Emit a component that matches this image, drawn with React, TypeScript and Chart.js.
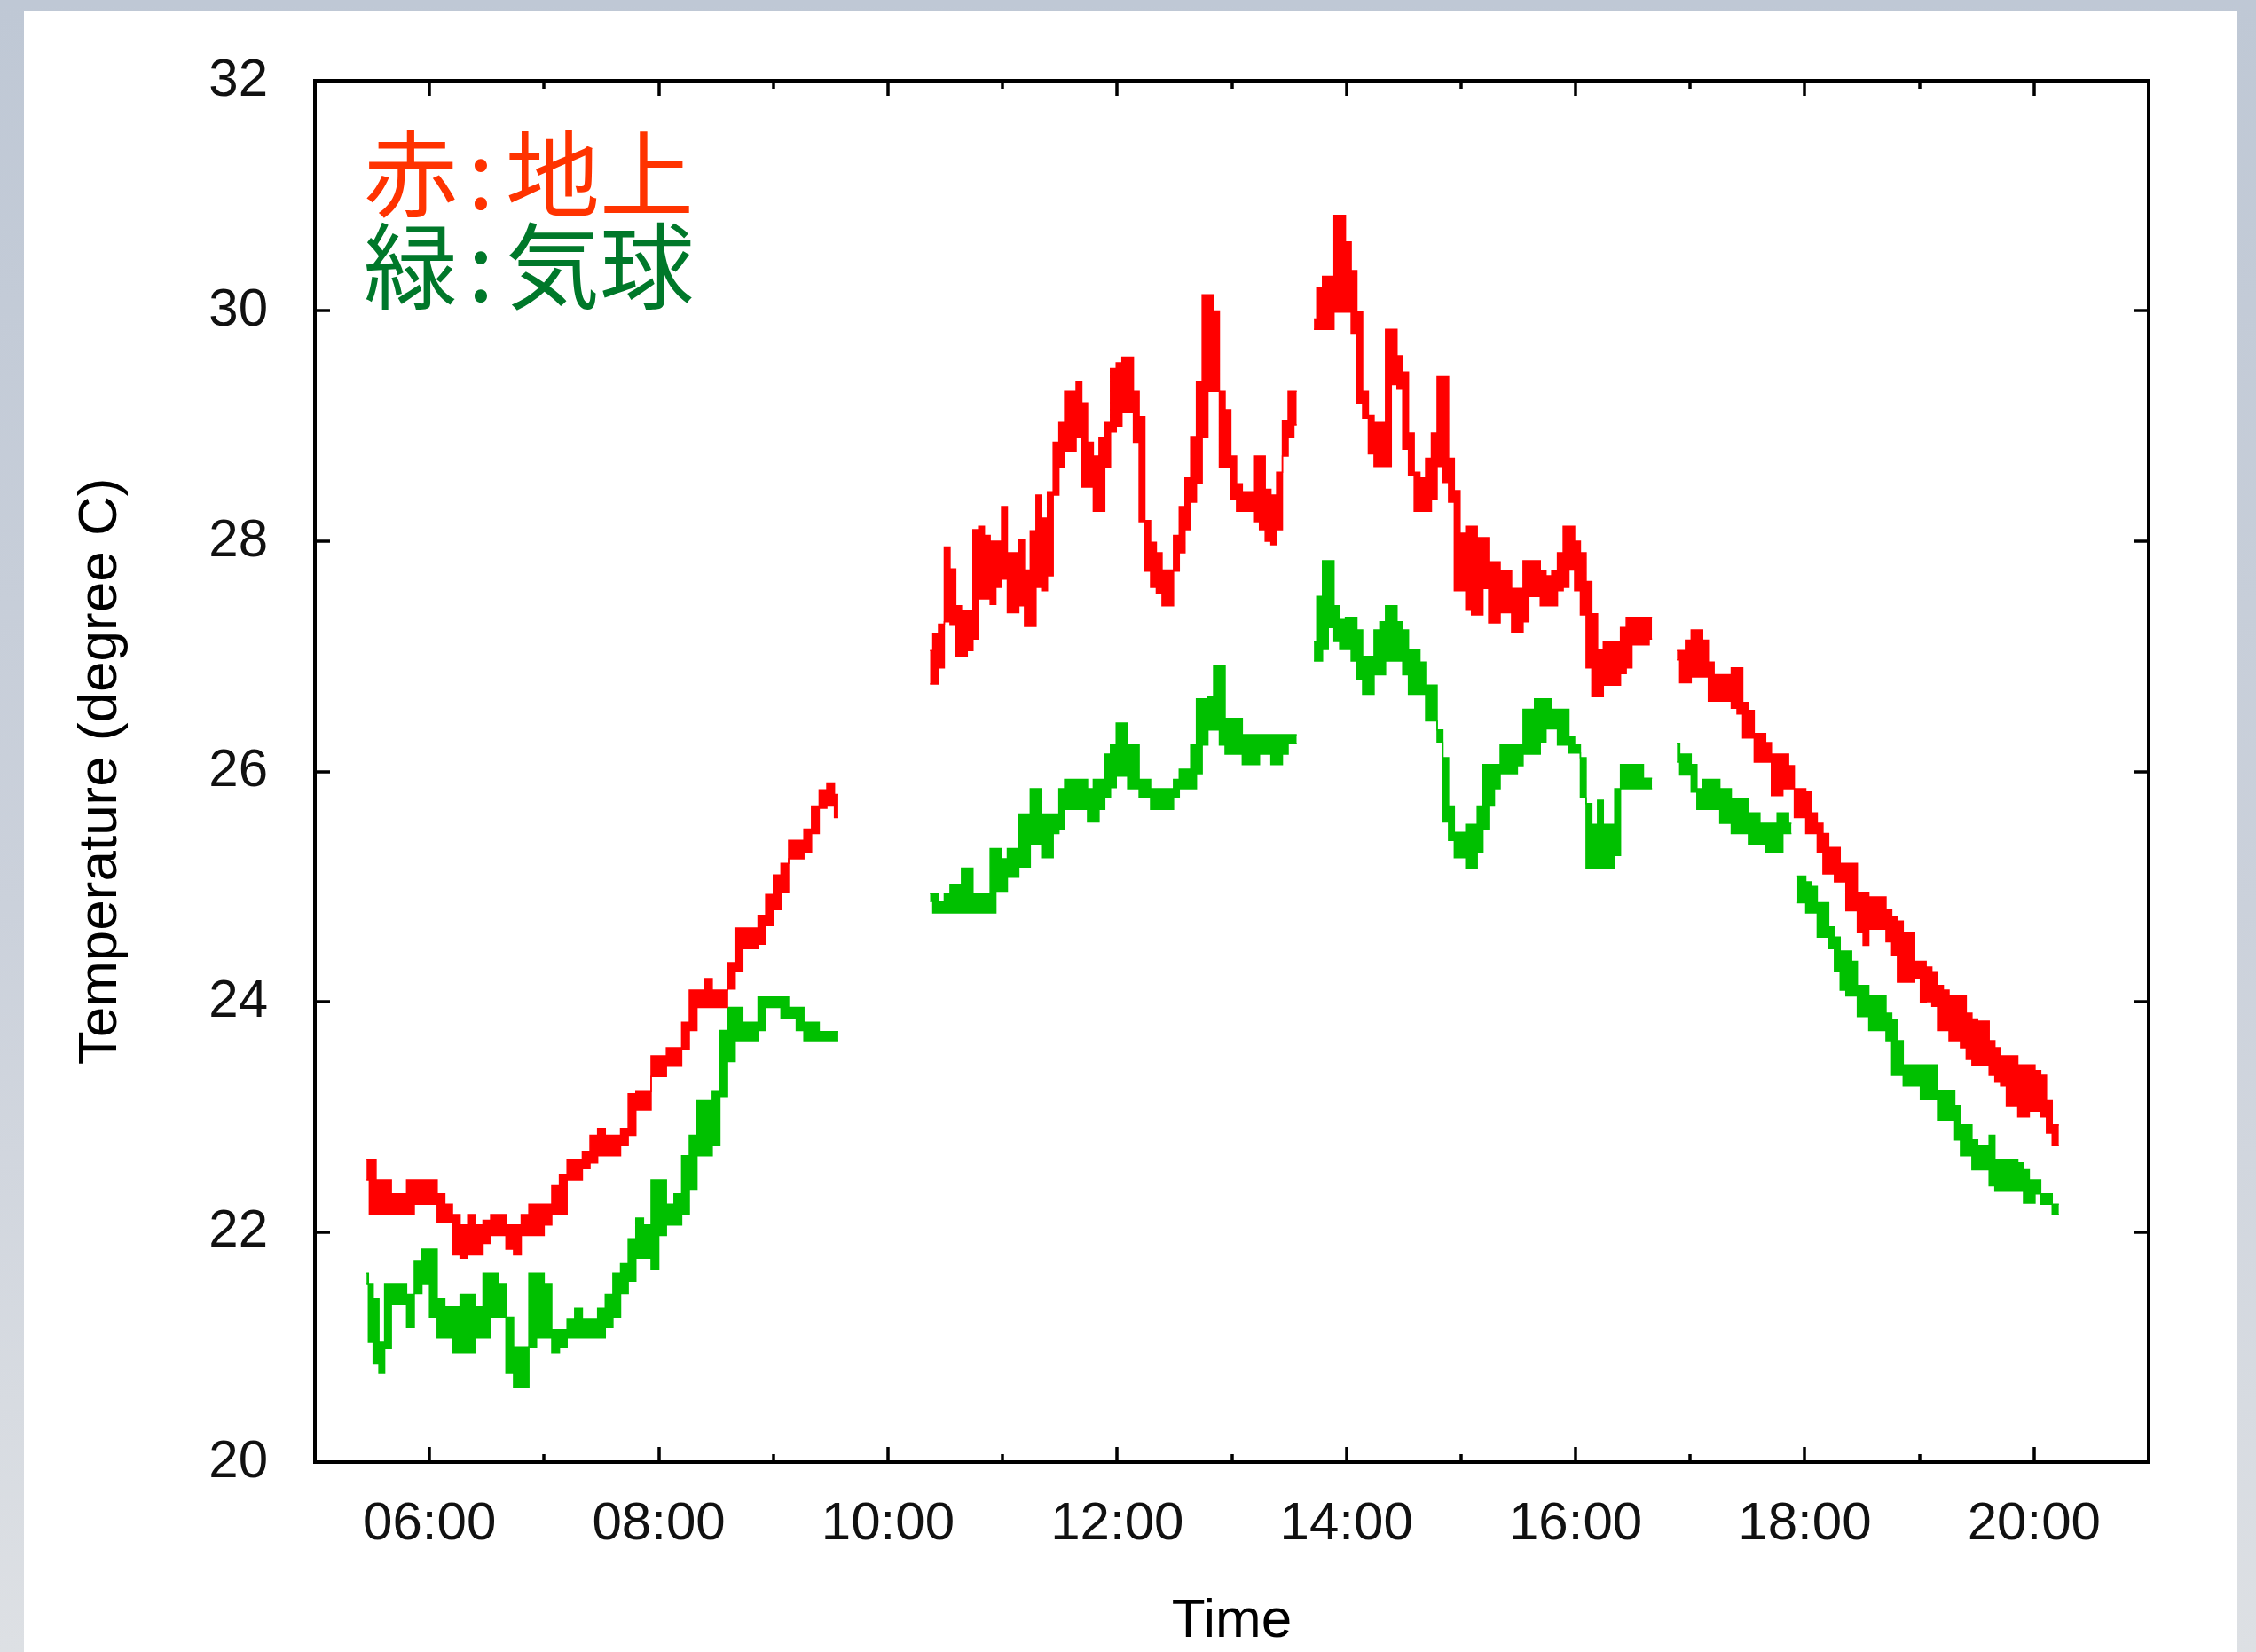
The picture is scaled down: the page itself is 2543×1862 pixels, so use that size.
import React, { useEffect, useRef } from "react";
import Chart from "chart.js/auto";

// ---- axes ----
const TIME_MIN = 300; // 05:00, minutes after midnight
const TIME_MAX = 1260; // 21:00
const TEMP_MIN = 20;
const TEMP_MAX = 32;
const HOUR_TICKS = [360, 420, 480, 540, 600, 660, 720, 780, 840, 900, 960, 1020, 1080, 1140, 1200];
const TEMP_TICKS = [20, 22, 24, 26, 28, 30, 32];
const X_TITLE = "Time";
const Y_TITLE = "Temperature (degree C)";

// ---- legend text ----
const LEGEND_KEYS = ["赤", "緑"];
const LEGEND_NAMES = ["地上", "気球"];
const LEGEND_COLORS = ["#ff3300", "#00782a"];

// ---- ground (red): time in minutes, lower and upper edge of the plotted band (°C); null = no data ----
const groundMinutes = [
  327, 330, 334, 338, 342, 346, 350, 354, 358, 362, 366, 370, 374, 378, 382, 386, 390, 394, 398, 402,
  406, 410, 414, 418, 422, 426, 430, 434, 438, 442, 446, 450, 454, 458, 462, 466, 470, 474, 478, 482,
  486, 490, 494, 498, 502, 506, 510, 514, 518, 522, 526, 530, 534, 538, 542, 546, 550, 554, 558, 562,
  566, 570, 574,
  598,
  622, 625, 628, 631, 634, 637, 640, 643, 646, 649, 652, 655, 658, 661, 664, 667, 670, 673, 676, 679,
  682, 685, 688, 691, 694, 697, 700, 703, 706, 709, 712, 715, 718, 721, 724, 727, 730, 733, 736, 739,
  742, 745, 748, 751, 754, 757, 760, 763, 766, 769, 772, 775, 778, 781, 784, 787, 790, 793, 796, 799,
  802, 805, 808, 811, 814,
  818,
  823, 826, 829, 832, 835, 838, 841, 844, 847, 850, 853, 856, 859, 862, 865, 868, 871, 874, 877, 880,
  883, 886, 889, 892, 895, 898, 901, 904, 907, 910, 913, 916, 919, 922, 925, 928, 931, 934, 937, 940,
  943, 946, 949, 952, 955, 958, 961, 964, 967, 970, 973, 976, 979, 982, 985, 988, 991, 994, 997, 1000,
  1006,
  1013, 1016, 1019, 1022, 1025, 1028, 1031, 1034, 1037, 1040, 1043, 1046, 1049, 1052, 1055, 1058, 1061, 1064, 1067, 1070,
  1073, 1076, 1079, 1082, 1085, 1088, 1091, 1094, 1097, 1100, 1103, 1106, 1109, 1112, 1115, 1118, 1121, 1124, 1127, 1130,
  1133, 1136, 1139, 1142, 1145, 1148, 1151, 1154, 1157, 1160, 1163, 1166, 1169, 1172, 1175, 1178, 1181, 1184, 1187, 1190,
  1193, 1196, 1199, 1202, 1205, 1208, 1211, 1213,
];
const groundLow = [
  22.45, 22.15, 22.15, 22.15, 22.15, 22.15, 22.15, 22.24, 22.24, 22.24, 22.08, 22.08, 21.8, 21.77, 21.8, 21.8, 21.9, 21.97, 21.97, 21.85,
  21.8, 21.97, 21.97, 21.97, 22.06, 22.15, 22.15, 22.45, 22.45, 22.55, 22.6, 22.66, 22.66, 22.66, 22.75, 22.84, 23.06, 23.06, 23.35, 23.35,
  23.44, 23.44, 23.59, 23.75, 23.95, 23.95, 23.95, 23.95, 24.11, 24.26, 24.46, 24.46, 24.5, 24.66, 24.8, 24.95, 25.24, 25.24, 25.3, 25.46,
  25.68, 25.7, 25.6,
  null,
  26.76, 26.76, 26.9, 27.3, 27.27, 27.0, 27.0, 27.05, 27.15, 27.5, 27.5, 27.45, 27.6, 27.67, 27.38, 27.38, 27.44, 27.26, 27.26, 27.6,
  27.57, 27.7, 28.4, 28.64, 28.78, 28.78, 28.9, 28.47, 28.47, 28.26, 28.26, 28.64, 28.95, 29.0, 29.12, 29.12, 28.86, 28.17, 27.74, 27.6,
  27.55, 27.44, 27.44, 27.74, 27.9, 28.1, 28.34, 28.5, 28.9, 29.3, 29.3, 28.64, 28.64, 28.36, 28.26, 28.26, 28.26, 28.17, 28.1, 28.0,
  27.97, 28.1, 28.74, 28.9, 29.01,
  null,
  29.84, 29.84, 29.84, 29.84, 29.99, 29.99, 29.99, 29.8, 29.2, 29.07, 28.76, 28.65, 28.65, 28.65, 29.36, 29.32, 28.8, 28.57, 28.26, 28.26,
  28.26, 28.36, 28.65, 28.51, 28.34, 27.57, 27.57, 27.4, 27.36, 27.36, 27.59, 27.29, 27.29, 27.38, 27.38, 27.21, 27.21, 27.3, 27.52, 27.52,
  27.44, 27.44, 27.44, 27.57, 27.6, 27.75, 27.57, 27.36, 26.9, 26.65, 26.65, 26.75, 26.75, 26.75, 26.85, 26.9, 27.1, 27.1, 27.1, 27.15,
  null,
  26.97, 26.77, 26.77, 26.82, 26.82, 26.82, 26.61, 26.61, 26.61, 26.61, 26.55, 26.5, 26.29, 26.29, 26.08, 26.08, 26.08, 25.79, 25.79, 25.85,
  25.85, 25.6, 25.6, 25.46, 25.46, 25.3, 25.11, 25.11, 25.04, 25.04, 24.79, 24.79, 24.6, 24.49, 24.63, 24.63, 24.63, 24.52, 24.4, 24.17,
  24.17, 24.17, 24.2, 23.99, 24.0, 23.96, 23.75, 23.75, 23.66, 23.66, 23.6, 23.5, 23.45, 23.45, 23.45, 23.36, 23.3, 23.27, 23.09, 23.09,
  23.0, 23.0, 23.05, 23.05, 23.0, 22.86, 22.75, 22.75,
];
const groundHigh = [
  22.63, 22.63, 22.45, 22.45, 22.33, 22.33, 22.45, 22.45, 22.45, 22.45, 22.33, 22.24, 22.15, 22.06, 22.15, 22.06, 22.1, 22.15, 22.15, 22.06,
  22.06, 22.15, 22.24, 22.24, 22.24, 22.4, 22.5, 22.63, 22.63, 22.7, 22.84, 22.9, 22.84, 22.84, 22.9, 23.2, 23.22, 23.22, 23.53, 23.53,
  23.6, 23.6, 23.82, 24.1, 24.1, 24.2, 24.1, 24.1, 24.34, 24.64, 24.64, 24.64, 24.75, 24.93, 25.1, 25.2, 25.4, 25.4, 25.5, 25.7,
  25.84, 25.9, 25.8,
  null,
  27.05, 27.2, 27.28, 27.95, 27.76, 27.44, 27.4, 27.4, 28.1, 28.13, 28.05, 28.0, 28.0, 28.3, 27.9, 27.9, 28.01, 27.75, 28.09, 28.4,
  28.2, 28.43, 28.86, 29.03, 29.3, 29.3, 29.39, 29.2, 28.86, 28.74, 28.9, 29.03, 29.5, 29.55, 29.6, 29.6, 29.3, 29.08, 28.18, 27.99,
  27.9, 27.75, 27.75, 28.05, 28.3, 28.55, 28.91, 29.39, 30.14, 30.14, 30.0, 29.3, 29.14, 28.74, 28.5, 28.43, 28.43, 28.74, 28.74, 28.45,
  28.4, 28.6, 29.05, 29.3, 29.3,
  null,
  29.93, 30.2, 30.3, 30.3, 30.83, 30.83, 30.6, 30.35, 29.99, 29.3, 29.09, 29.03, 29.03, 29.84, 29.84, 29.61, 29.47, 28.94, 28.6, 28.55,
  28.72, 28.94, 29.43, 29.43, 28.72, 28.44, 28.07, 28.13, 28.13, 28.03, 28.03, 27.82, 27.82, 27.74, 27.74, 27.59, 27.59, 27.83, 27.83, 27.83,
  27.74, 27.7, 27.74, 27.9, 28.13, 28.13, 28.0, 27.9, 27.65, 27.37, 27.06, 27.13, 27.13, 27.13, 27.25, 27.34, 27.34, 27.34, 27.34, 27.34,
  null,
  27.05, 27.05, 27.14, 27.23, 27.23, 27.14, 26.95, 26.84, 26.84, 26.84, 26.9, 26.9, 26.6, 26.53, 26.33, 26.33, 26.25, 26.15, 26.15, 26.15,
  26.05, 25.85, 25.85, 25.82, 25.64, 25.55, 25.46, 25.34, 25.34, 25.2, 25.2, 25.2, 24.95, 24.95, 24.91, 24.91, 24.91, 24.8, 24.74, 24.7,
  24.6, 24.6, 24.35, 24.35, 24.3, 24.26, 24.14, 24.1, 24.05, 24.05, 24.05, 23.9, 23.85, 23.83, 23.83, 23.66, 23.6, 23.53, 23.53, 23.53,
  23.45, 23.45, 23.45, 23.4, 23.36, 23.14, 22.93, 22.93,
];

// ---- balloon (green) ----
const balloonMinutes = [
  327, 329, 332, 335, 338, 342, 346, 350, 354, 358, 362, 366, 370, 374, 378, 382, 386, 390, 394, 398,
  402, 406, 410, 414, 418, 422, 426, 430, 434, 438, 442, 446, 450, 454, 458, 462, 466, 470, 474, 478,
  482, 486, 490, 494, 498, 502, 506, 510, 514, 518, 522, 526, 530, 534, 538, 542, 546, 550, 554, 558,
  562, 566, 570, 574,
  598,
  622, 625, 628, 631, 634, 637, 640, 643, 646, 649, 652, 655, 658, 661, 664, 667, 670, 673, 676, 679,
  682, 685, 688, 691, 694, 697, 700, 703, 706, 709, 712, 715, 718, 721, 724, 727, 730, 733, 736, 739,
  742, 745, 748, 751, 754, 757, 760, 763, 766, 769, 772, 775, 778, 781, 784, 787, 790, 793, 796, 799,
  802, 805, 808, 811, 814,
  818,
  823, 826, 829, 832, 835, 838, 841, 844, 847, 850, 853, 856, 859, 862, 865, 868, 871, 874, 877, 880,
  883, 886, 889, 892, 895, 898, 901, 904, 907, 910, 913, 916, 919, 922, 925, 928, 931, 934, 937, 940,
  943, 946, 949, 952, 955, 958, 961, 964, 967, 970, 973, 976, 979, 982, 985, 988, 991, 994, 997, 1000,
  1006,
  1013, 1016, 1019, 1022, 1025, 1028, 1031, 1034, 1037, 1040, 1043, 1046, 1049, 1052, 1055, 1058, 1061, 1064, 1067, 1070,
  1073,
  1074.5,
  1076, 1079, 1082, 1085, 1088, 1091, 1094, 1097, 1100, 1103, 1106, 1109, 1112, 1115, 1118, 1121, 1124, 1127, 1130,
  1133, 1136, 1139, 1142, 1145, 1148, 1151, 1154, 1157, 1160, 1163, 1166, 1169, 1172, 1175, 1178, 1181, 1184, 1187, 1190,
  1193, 1196, 1199, 1202, 1205, 1208, 1211, 1213,
];
const balloonLow = [
  21.55, 21.04, 20.86, 20.77, 20.99, 21.37, 21.37, 21.17, 21.46, 21.55, 21.26, 21.08, 21.08, 20.95, 20.95, 20.95, 21.08, 21.08, 21.26, 21.26,
  20.77, 20.65, 20.65, 21.0, 21.08, 21.08, 20.95, 21.0, 21.08, 21.08, 21.08, 21.08, 21.08, 21.17, 21.26, 21.46, 21.57, 21.77, 21.77, 21.67,
  21.97, 22.06, 22.06, 22.15, 22.37, 22.66, 22.66, 22.75, 23.17, 23.48, 23.66, 23.66, 23.66, 23.75, 23.95, 23.95, 23.86, 23.86, 23.75, 23.66,
  23.66, 23.66, 23.66, 23.66,
  null,
  24.87, 24.77, 24.77, 24.77, 24.77, 24.77, 24.77, 24.77, 24.77, 24.77, 24.77, 24.77, 24.96, 24.96, 25.08, 25.08, 25.17, 25.17, 25.37, 25.37,
  25.25, 25.25, 25.46, 25.5, 25.67, 25.67, 25.67, 25.67, 25.56, 25.56, 25.67, 25.77, 25.86, 25.96, 25.96, 25.85, 25.85, 25.77, 25.77, 25.67,
  25.67, 25.67, 25.67, 25.77, 25.85, 25.85, 25.85, 25.98, 26.23, 26.36, 26.36, 26.23, 26.15, 26.15, 26.15, 26.06, 26.06, 26.06, 26.15, 26.15,
  26.06, 26.06, 26.15, 26.24, 26.24,
  null,
  26.96, 26.96, 27.06, 27.25, 27.13, 27.06, 27.06, 26.96, 26.8, 26.67, 26.67, 26.84, 26.84, 26.96, 26.96, 26.96, 26.84, 26.67, 26.67, 26.67,
  26.44, 26.44, 26.25, 25.56, 25.4, 25.25, 25.25, 25.16, 25.16, 25.3, 25.5, 25.7, 25.85, 25.98, 25.98, 25.98, 26.05, 26.15, 26.15, 26.15,
  26.25, 26.37, 26.37, 26.23, 26.23, 26.16, 26.16, 25.77, 25.16, 25.16, 25.16, 25.16, 25.16, 25.27, 25.85, 25.85, 25.85, 25.85, 25.85, 25.85,
  null,
  26.08, 25.97, 25.97, 25.82, 25.67, 25.67, 25.67, 25.67, 25.55, 25.55, 25.46, 25.46, 25.46, 25.37, 25.37, 25.37, 25.3, 25.3, 25.3, 25.46,
  25.46,
  null,
  24.86, 24.86, 24.77, 24.77, 24.56, 24.56, 24.46, 24.26, 24.1, 24.05, 24.05, 23.87, 23.87, 23.75, 23.75, 23.75, 23.66, 23.36, 23.36,
  23.27, 23.27, 23.27, 23.15, 23.15, 23.15, 22.97, 22.97, 22.97, 22.8, 22.66, 22.66, 22.54, 22.54, 22.54, 22.4, 22.36, 22.36, 22.36, 22.36,
  22.36, 22.25, 22.25, 22.33, 22.24, 22.24, 22.15, 22.15,
];
const balloonHigh = [
  21.64, 21.55, 21.42, 21.04, 21.55, 21.55, 21.55, 21.46, 21.75, 21.85, 21.85, 21.42, 21.35, 21.35, 21.46, 21.46, 21.35, 21.64, 21.64, 21.55,
  21.26, 21.0, 21.0, 21.64, 21.64, 21.55, 21.15, 21.15, 21.24, 21.34, 21.24, 21.24, 21.34, 21.46, 21.64, 21.73, 21.94, 22.12, 22.06, 22.45,
  22.45, 22.24, 22.33, 22.66, 22.84, 23.14, 23.14, 23.22, 23.75, 23.95, 23.95, 23.82, 23.82, 24.04, 24.04, 24.04, 24.04, 23.95, 23.95, 23.82,
  23.82, 23.74, 23.74, 23.74,
  null,
  24.94, 24.94, 24.87, 24.94, 25.02, 25.02, 25.16, 25.16, 24.94, 24.94, 24.94, 25.33, 25.33, 25.24, 25.33, 25.33, 25.63, 25.63, 25.85, 25.85,
  25.63, 25.63, 25.63, 25.85, 25.93, 25.93, 25.93, 25.93, 25.85, 25.93, 25.93, 26.15, 26.23, 26.42, 26.42, 26.23, 26.23, 25.93, 25.93, 25.85,
  25.85, 25.85, 25.85, 25.93, 26.02, 26.02, 26.23, 26.63, 26.63, 26.65, 26.92, 26.92, 26.46, 26.46, 26.46, 26.32, 26.32, 26.32, 26.32, 26.32,
  26.32, 26.32, 26.32, 26.32, 26.32,
  null,
  27.13, 27.52, 27.83, 27.83, 27.44, 27.32, 27.34, 27.34, 27.23, 27.0, 27.0, 27.23, 27.3, 27.44, 27.44, 27.3, 27.23, 27.06, 27.06, 26.95,
  26.75, 26.75, 26.36, 26.12, 25.7, 25.47, 25.47, 25.54, 25.54, 25.7, 26.06, 26.06, 26.06, 26.23, 26.23, 26.23, 26.23, 26.54, 26.54, 26.63,
  26.63, 26.63, 26.54, 26.54, 26.54, 26.3, 26.23, 26.12, 25.72, 25.54, 25.75, 25.54, 25.54, 25.85, 26.06, 26.06, 26.06, 26.06, 25.94, 25.94,
  null,
  26.24, 26.15, 26.15, 26.06, 25.85, 25.93, 25.93, 25.93, 25.85, 25.85, 25.76, 25.76, 25.76, 25.64, 25.64, 25.55, 25.55, 25.55, 25.64, 25.64,
  25.55,
  null,
  25.09, 25.09, 25.04, 25.0, 24.86, 24.86, 24.65, 24.56, 24.44, 24.44, 24.35, 24.14, 24.14, 24.05, 24.05, 24.05, 23.9, 23.84, 23.66,
  23.45, 23.45, 23.45, 23.45, 23.45, 23.45, 23.23, 23.23, 23.23, 23.1, 22.93, 22.93, 22.8, 22.75, 22.75, 22.84, 22.63, 22.63, 22.63, 22.63,
  22.6, 22.54, 22.45, 22.45, 22.33, 22.33, 22.24, 22.24,
];

const GROUND_COLOR = "#ff0000";
const BALLOON_COLOR = "#00c000";

function toPoints(minutes: number[], values: (number | null)[]) {
  const n = Math.min(minutes.length, values.length);
  const out: { x: number; y: number | null }[] = [];
  for (let i = 0; i < n; i++) out.push({ x: minutes[i], y: values[i] });
  return out;
}

function hourLabel(m: number) {
  const h = Math.round(m / 60);
  return (h < 10 ? "0" : "") + h + ":00";
}

const TICK_FONT = '"Liberation Sans", Arial, sans-serif';
const CJK_FONT = '"Noto Sans CJK JP", "Noto Sans CJK SC", sans-serif';

const framePlugin = {
  id: "gnuplotFrame",
  afterDraw(chart: any) {
    const { ctx, chartArea: a, scales } = chart;
    const x = scales.x;
    const y = scales.y;
    ctx.save();
    ctx.strokeStyle = "#000";
    ctx.lineCap = "butt";
    ctx.lineWidth = 3.5;
    ctx.beginPath();
    for (const t of x.ticks) {
      const px = Math.round(x.getPixelForValue(t.value));
      const len = t.value % 120 === 0 ? 17 : 9;
      ctx.moveTo(px, a.bottom);
      ctx.lineTo(px, a.bottom - len);
      ctx.moveTo(px, a.top);
      ctx.lineTo(px, a.top + len);
    }
    for (const t of y.ticks) {
      const py = Math.round(y.getPixelForValue(t.value));
      ctx.moveTo(a.left, py);
      ctx.lineTo(a.left + 17, py);
      ctx.moveTo(a.right, py);
      ctx.lineTo(a.right - 17, py);
    }
    ctx.stroke();
    ctx.lineWidth = 4;
    ctx.strokeRect(a.left, a.top, a.right - a.left, a.bottom - a.top);

    // legend text
    ctx.font = "106px " + CJK_FONT;
    ctx.textBaseline = "alphabetic";
    const baselines = [a.top + 145, a.top + 249];
    for (let i = 0; i < LEGEND_KEYS.length; i++) {
      ctx.fillStyle = LEGEND_COLORS[i];
      ctx.textAlign = "left";
      ctx.fillText(LEGEND_KEYS[i], a.left + 55, baselines[i]);
      ctx.textAlign = "center";
      ctx.fillText(":", a.left + 187, baselines[i]);
      ctx.textAlign = "left";
      ctx.fillText(LEGEND_NAMES[i], a.left + 215, baselines[i]);
    }
    ctx.restore();
  },
};

export default function App() {
  const ref = useRef<HTMLCanvasElement | null>(null);

  useEffect(() => {
    document.body.style.margin = "0";
    const canvas = ref.current;
    if (!canvas) return;
    const band = (minutes: number[], vals: (number | null)[], color: string, fill: any) => ({
      data: toPoints(minutes, vals),
      borderColor: color,
      backgroundColor: color,
      borderWidth: 1.5,
      pointRadius: 0,
      stepped: "middle" as const,
      spanGaps: false,
      fill,
    });
    const chart = new Chart(canvas, {
      type: "line",
      data: {
        datasets: [
          band(groundMinutes, groundHigh, GROUND_COLOR, false),
          band(groundMinutes, groundLow, GROUND_COLOR, "-1"),
          band(balloonMinutes, balloonHigh, BALLOON_COLOR, false),
          band(balloonMinutes, balloonLow, BALLOON_COLOR, "-1"),
        ],
      },
      options: {
        responsive: false,
        animation: false,
        devicePixelRatio: 1,
        events: [],
        layout: { padding: { top: 91, right: 121, bottom: 0, left: 0 } },
        plugins: {
          legend: { display: false },
          tooltip: { enabled: false },
          title: { display: false },
        },
        scales: {
          x: {
            type: "linear",
            min: TIME_MIN,
            max: TIME_MAX,
            grid: { display: false, drawTicks: false },
            border: { display: false },
            afterBuildTicks: (s: any) => {
              s.ticks = HOUR_TICKS.map((v) => ({ value: v }));
            },
            afterFit: (s: any) => {
              s.height = 214;
            },
            ticks: {
              autoSkip: false,
              maxRotation: 0,
              minRotation: 0,
              padding: 34,
              color: "#111",
              font: { family: TICK_FONT, size: 60 },
              callback: (v: any) => (Number(v) % 120 === 0 ? hourLabel(Number(v)) : ""),
            },
            title: {
              display: true,
              text: X_TITLE,
              color: "#000",
              font: { family: TICK_FONT, size: 62 },
              padding: { top: 0, bottom: -3 },
            },
          },
          y: {
            type: "linear",
            min: TEMP_MIN,
            max: TEMP_MAX,
            grid: { display: false, drawTicks: false },
            border: { display: false },
            afterBuildTicks: (s: any) => {
              s.ticks = TEMP_TICKS.map((v) => ({ value: v }));
            },
            afterFit: (s: any) => {
              s.width = 355;
            },
            ticks: {
              padding: 53,
              color: "#111",
              font: { family: TICK_FONT, size: 60 },
              callback: (v: any) => String(v),
            },
            title: {
              display: true,
              text: Y_TITLE,
              color: "#000",
              font: { family: TICK_FONT, size: 62 },
              padding: { top: 77, bottom: 0 },
            },
          },
        },
      },
      plugins: [framePlugin],
    });
    return () => chart.destroy();
  }, []);

  return (
    <div
      style={{
        position: "fixed",
        left: 0,
        top: 0,
        width: 2543,
        height: 1862,
        overflow: "hidden",
        background: "linear-gradient(180deg, #bfc8d5 0%, #cbd1db 55%, #dde0e4 100%)",
      }}
    >
      <div style={{ position: "absolute", left: 27, top: 12, width: 2495, height: 1850, background: "#ffffff" }} />
      <canvas
        ref={ref}
        width={2543}
        height={1862}
        style={{ position: "absolute", left: 0, top: 0, width: 2543, height: 1862 }}
      />
    </div>
  );
}
